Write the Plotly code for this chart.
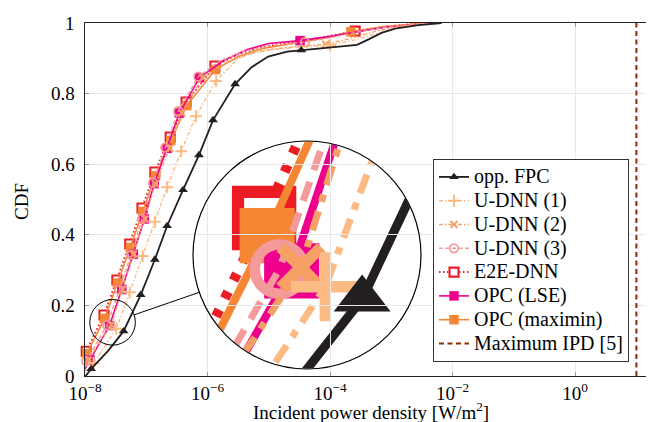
import plotly.graph_objects as go

# ---------------- data ----------------
# x values are stored as log10 of the incident power density [W/m^2]
fpc_log = [-7.99, -7.90, -7.62, -7.37, -7.09, -6.86, -6.66, -6.40, -6.14, -5.91, -5.55,
           -5.28, -5.01, -4.70, -4.47, -3.92, -3.56, -3.38, -3.16, -2.94, -2.56, -2.18]
fpc_cdf = [0.0, 0.02, 0.072, 0.127, 0.23, 0.33, 0.425, 0.527, 0.626, 0.725, 0.827,
           0.875, 0.905, 0.919, 0.923, 0.931, 0.938, 0.953, 0.972, 0.984, 0.994, 1.0]
fpc_mark = [0, 1, 0, 1, 1, 1, 1, 1, 1, 1, 1, 0, 0, 0, 1, 0, 0, 0, 0, 0, 0, 0]

udnn1_log = [-7.98, -7.86, -7.49, -7.27, -7.06, -6.86, -6.66, -6.43, -6.19, -5.86,
             -5.50, -5.18, -4.60, -4.00, -3.60, -3.20, -2.80, -2.40]
udnn1_cdf = [0.0, 0.037, 0.134, 0.237, 0.34, 0.437, 0.535, 0.637, 0.736, 0.836,
             0.90, 0.921, 0.93, 0.937, 0.952, 0.972, 0.99, 1.0]
udnn1_mark = [0, 1, 1, 1, 1, 1, 1, 1, 1, 1, 0, 0, 0, 1, 0, 0, 0, 0]

udnn2_log = [-8.02, -7.95, -7.57, -7.39, -7.21, -7.02, -6.85, -6.62, -6.42, -6.08,
             -5.70, -5.30, -4.90, -4.50, -4.07, -3.70, -3.30, -2.90, -2.40]
udnn2_cdf = [0.0, 0.045, 0.145, 0.245, 0.345, 0.445, 0.545, 0.645, 0.745, 0.845,
             0.888, 0.913, 0.927, 0.934, 0.94, 0.955, 0.974, 0.99, 1.0]
udnn2_mark = [0, 1, 1, 1, 1, 1, 1, 1, 1, 1, 0, 0, 0, 0, 1, 0, 0, 0, 0]

udnn3_log = [-8.05, -7.98, -7.64, -7.44, -7.25, -7.07, -6.89, -6.69, -6.48, -6.15,
             -5.80, -5.40, -5.00, -4.41, -4.00, -3.60, -3.10, -2.40]
udnn3_cdf = [0.0, 0.042, 0.144, 0.244, 0.343, 0.445, 0.547, 0.647, 0.75, 0.848,
             0.892, 0.92, 0.935, 0.946, 0.958, 0.973, 0.988, 1.0]
udnn3_mark = [0, 1, 1, 1, 1, 1, 1, 1, 1, 1, 0, 0, 0, 1, 0, 0, 0, 0]

e2e_log = [-8.08, -7.98, -7.69, -7.48, -7.27, -7.07, -6.86, -6.61, -6.35, -5.88,
           -5.50, -5.10, -4.60, -4.10, -3.59, -3.10, -2.45]
e2e_cdf = [0.0, 0.07, 0.173, 0.272, 0.374, 0.476, 0.578, 0.677, 0.776, 0.878,
           0.912, 0.932, 0.945, 0.96, 0.977, 0.99, 1.0]
e2e_mark = [0, 1, 1, 1, 1, 1, 1, 1, 1, 1, 0, 0, 0, 0, 1, 0, 0]

lse_log = [-8.06, -7.92, -7.60, -7.40, -7.21, -7.03, -6.87, -6.66, -6.46, -6.13,
           -5.75, -5.35, -5.00, -4.49, -4.00, -3.60, -3.10, -2.35]
lse_cdf = [0.0, 0.045, 0.143, 0.245, 0.345, 0.445, 0.545, 0.645, 0.745, 0.845,
           0.893, 0.925, 0.942, 0.95, 0.962, 0.974, 0.988, 1.0]
lse_mark = [0, 1, 1, 1, 1, 1, 1, 1, 1, 1, 0, 0, 0, 1, 0, 0, 0, 0]

maximin_log = [-8.08, -7.97, -7.68, -7.47, -7.26, -7.06, -6.85, -6.60, -6.34, -5.87,
               -5.50, -5.10, -4.60, -4.10, -3.66, -3.10, -2.40]
maximin_cdf = [0.0, 0.063, 0.163, 0.263, 0.364, 0.466, 0.567, 0.667, 0.766, 0.868,
               0.905, 0.928, 0.942, 0.957, 0.975, 0.99, 1.0]
maximin_mark = [0, 1, 1, 1, 1, 1, 1, 1, 1, 1, 0, 0, 0, 0, 1, 0, 0]

max_ipd_x = [10, 10]
max_ipd_cdf = [0, 1]

X_TICK_VALS = [1e-8, 1e-6, 1e-4, 1e-2, 1]
X_TICK_TEXT = ['10<sup>−8</sup>', '10<sup>−6</sup>', '10<sup>−4</sup>', '10<sup>−2</sup>', '10<sup>0</sup>']
Y_TICK_VALS = [0, 0.2, 0.4, 0.6, 0.8, 1]
Y_TICK_TEXT = ['0', '0.2', '0.4', '0.6', '0.8', '1']
X_TITLE = 'Incident power density [W/m<sup>2</sup>]'
Y_TITLE = 'CDF'

# ---------------- styling / layout geometry ----------------
W, H = 654, 422
ML, MR, MT, MB = 77, 6, 15, 54
PW, PH = W - ML - MR, H - MT - MB
X_LOG_RANGE = [-8, 1.32]
DEC_PER_PX = (X_LOG_RANGE[1] - X_LOG_RANGE[0]) / PW

FONT = 'Liberation Serif'
T = 'rgba(0,0,0,0)'
LEG_TXT = 20  # legend text size (rows keep a tighter pitch)

C_FPC = '#231f20'
C_U1 = '#fcbb85'
C_U2 = '#f7a066'
C_U3 = '#f49a9a'
C_E2E = '#ed1c24'
C_LSE = '#ec008c'
C_MAX = '#f58634'
C_IPD = '#8c2d04'

# spy (magnifier) geometry
SPY_LOG_X, SPY_CDF, SPY_R = -7.55, 0.152, 22.8
BIG_CX, BIG_CY, BIG_R = 299, 247, 114      # pixel centre / radius of the magnified view
MAG = BIG_R / SPY_R
MK_MAG = 5.8


def paper_x(px):
    return (px - ML) / PW


def paper_y(py):
    return (MT + PH - py) / PH


def px_x(logv):
    return ML + (logv - X_LOG_RANGE[0]) / DEC_PER_PX


def px_y(c):
    return MT + (1 - c) * PH


def dash_str(pattern, k=1.0):
    if pattern is None:
        return 'solid'
    return ','.join('%gpx' % (p * k) for p in pattern)


def circle_data(cx_log, cy, r_px):
    """circle of r_px pixels around a point of the main axes, in main-axis data units"""
    return dict(x0=10 ** (cx_log - r_px * DEC_PER_PX), x1=10 ** (cx_log + r_px * DEC_PER_PX),
                y0=cy - r_px / PH, y1=cy + r_px / PH)


series = [
    dict(name='E2E-DNN', logs=e2e_log, cdf=e2e_cdf, mark=e2e_mark, color=C_E2E,
         fill='white', edge=C_E2E, dash=[1.5, 2.5], width=2.0, symbol='square',
         msize=9, mlw=2.1, rank=5),
    dict(name='OPC (maximin)', logs=maximin_log, cdf=maximin_cdf, mark=maximin_mark, color=C_MAX,
         fill=C_MAX, edge=C_MAX, dash=None, width=1.6, symbol='square',
         msize=9.5, mlw=0, rank=7),
    dict(name='OPC (LSE)', logs=lse_log, cdf=lse_cdf, mark=lse_mark, color=C_LSE,
         fill=C_LSE, edge=C_LSE, dash=None, width=1.6, symbol='square',
         msize=9.5, mlw=0, rank=6),
    dict(name='U-DNN (3)', logs=udnn3_log, cdf=udnn3_cdf, mark=udnn3_mark, color=C_U3,
         fill=C_U3, edge=C_U3, dash=[4, 2.5], width=1.4, symbol='circle-open',
         msize=8.5, mlw=1.8, rank=4),
    dict(name='U-DNN (2)', logs=udnn2_log, cdf=udnn2_cdf, mark=udnn2_mark, color=C_U2,
         fill=C_U2, edge=C_U2, dash=[4, 2, 1.5, 2], width=1.4, symbol='x-thin',
         msize=7, mlw=2.0, rank=3),
    dict(name='U-DNN (1)', logs=udnn1_log, cdf=udnn1_cdf, mark=udnn1_mark, color=C_U1,
         fill=C_U1, edge=C_U1, dash=[4, 2, 1.5, 2], width=1.4, symbol='cross-thin',
         msize=8.5, mlw=2.0, rank=2),
    dict(name='opp. FPC', logs=fpc_log, cdf=fpc_cdf, mark=fpc_mark, color=C_FPC,
         fill=C_FPC, edge=C_FPC, dash=None, width=1.8, symbol='triangle-up',
         msize=8.5, mlw=0, rank=1),
]


def leg_name(txt):
    return ('<span style="font-family:Liberation Serif;font-size:%dpx">%s</span>'
            % (LEG_TXT, txt))


fig = go.Figure()

# ---- magnified inset (drawn first, on x/y) ----
for s in series:
    xs = [10 ** v for v in s['logs']]
    fig.add_trace(go.Scatter(
        x=xs, y=s['cdf'], mode='lines+markers', xaxis='x', yaxis='y',
        showlegend=False, hoverinfo='skip', cliponaxis=True,
        line=dict(color=s['color'], width=s['width'] * MAG, dash=dash_str(s['dash'], MAG)),
        marker=dict(symbol=s['symbol'], size=s['msize'] * MK_MAG,
                    color=[s['fill'] if m else T for m in s['mark']],
                    line=dict(color=[s['edge'] if m else T for m in s['mark']],
                              width=s['mlw'] * MK_MAG)),
    ))

# ---- main plot (x2/y2) ----
for s in series:
    xs = [10 ** v for v in s['logs']]
    ys = s['cdf']
    fig.add_trace(go.Scatter(
        x=xs[:2], y=ys[:2], mode='lines', xaxis='x2', yaxis='y2',
        showlegend=False, hoverinfo='skip', legendgroup=s['name'],
        line=dict(color=s['color'], width=s['width'], dash=dash_str(s['dash'])),
    ))
    fig.add_trace(go.Scatter(
        x=xs[1:], y=ys[1:], mode='lines+markers', xaxis='x2', yaxis='y2',
        name=leg_name(s['name']), legendrank=s['rank'], legendgroup=s['name'],
        hoverinfo='skip', cliponaxis=False,
        line=dict(color=s['color'], width=s['width'], dash=dash_str(s['dash'])),
        marker=dict(symbol=s['symbol'], size=s['msize'],
                    color=[s['fill'] if m else T for m in s['mark'][1:]],
                    line=dict(color=[s['edge'] if m else T for m in s['mark'][1:]],
                              width=s['mlw'])),
    ))

fig.add_trace(go.Scatter(
    x=max_ipd_x, y=max_ipd_cdf, mode='lines', xaxis='x2', yaxis='y2',
    name=leg_name('Maximum IPD [5]'), legendrank=8, hoverinfo='skip',
    line=dict(color=C_IPD, width=2, dash='5px,3.5px'),
))

# ---- geometry of the magnifier ----
inset_dx = [paper_x(BIG_CX - BIG_R), paper_x(BIG_CX + BIG_R)]
inset_dy = [paper_y(BIG_CY + BIG_R), paper_y(BIG_CY - BIG_R)]
inset_xr = [SPY_LOG_X - SPY_R * DEC_PER_PX, SPY_LOG_X + SPY_R * DEC_PER_PX]
inset_yr = [SPY_CDF - SPY_R / PH, SPY_CDF + SPY_R / PH]
big_log = X_LOG_RANGE[0] + (BIG_CX - ML) * DEC_PER_PX
big_cdf = 1 - (BIG_CY - MT) / PH

r_in, r_out = BIG_R - 0.5, BIG_R * 1.48
ring_mid, ring_w = (r_in + r_out) / 2, (r_out - r_in)

sx, sy = px_x(SPY_LOG_X), px_y(SPY_CDF)
dx, dy = BIG_CX - sx, BIG_CY - sy
dist = (dx ** 2 + dy ** 2) ** 0.5
ux, uy = dx / dist, dy / dist
l0 = (sx + ux * SPY_R, sy + uy * SPY_R)
l1 = (BIG_CX - ux * BIG_R, BIG_CY - uy * BIG_R)

shapes = [
    # white ring that turns the square inset into a circular one (sits under main traces)
    dict(type='circle', xref='x2', yref='y2', **circle_data(big_log, big_cdf, ring_mid),
         line=dict(color='white', width=ring_w), fillcolor=T, layer='below'),
    # magnified circle outline
    dict(type='circle', xref='paper', yref='paper',
         x0=inset_dx[0], x1=inset_dx[1], y0=inset_dy[0], y1=inset_dy[1],
         line=dict(color='black', width=1.2), layer='above'),
    # spy circle
    dict(type='circle', xref='x2', yref='y2', **circle_data(SPY_LOG_X, SPY_CDF, SPY_R),
         line=dict(color='black', width=1), layer='above'),
    # connection line
    dict(type='line', xref='paper', yref='paper',
         x0=paper_x(l0[0]), y0=paper_y(l0[1]), x1=paper_x(l1[0]), y1=paper_y(l1[1]),
         line=dict(color='black', width=1), layer='above'),
]

axis_common = dict(showline=True, linecolor='#222', linewidth=1, mirror='ticks',
                   ticks='inside', ticklen=4, tickcolor='#9a9a9a', tickwidth=1,
                   showgrid=True, gridcolor='#e8e8e8', gridwidth=1, zeroline=False,
                   tickfont=dict(family=FONT, size=19, color='black'))

# y tick labels placed just left of the axis line
y_tick_annotations = [
    dict(text=t, xref='paper', yref='y2', x=paper_x(69), y=v, xanchor='right',
         yanchor='middle', showarrow=False, font=dict(family=FONT, size=19, color='black'))
    for v, t in zip(Y_TICK_VALS, Y_TICK_TEXT)
]

fig.update_layout(
    width=W, height=H,
    margin=dict(l=ML, r=MR, t=MT, b=MB),
    paper_bgcolor='white', plot_bgcolor='rgba(0,0,0,0)',
    font=dict(family=FONT, size=19, color='black'),
    showlegend=True,
    xaxis=dict(type='log', range=inset_xr, domain=inset_dx, anchor='y', visible=False,
               showgrid=False, zeroline=False, fixedrange=True),
    yaxis=dict(range=inset_yr, domain=inset_dy, anchor='x', visible=False,
               showgrid=False, zeroline=False, fixedrange=True),
    xaxis2=dict(type='log', range=X_LOG_RANGE, domain=[0, 1], anchor='y2',
                tickvals=X_TICK_VALS, ticktext=X_TICK_TEXT, automargin=False,
                **axis_common),
    yaxis2=dict(range=[0, 1], domain=[0, 1], anchor='x2', automargin=False,
                tickvals=Y_TICK_VALS, showticklabels=False,
                **axis_common),
    legend=dict(x=paper_x(621), y=paper_y(151), xanchor='right', yanchor='top',
                bgcolor='white', bordercolor='#333', borderwidth=1,
                font=dict(family=FONT, size=16, color='black'),
                tracegroupgap=0, itemwidth=30),
    shapes=shapes,
    annotations=y_tick_annotations + [
        dict(text=X_TITLE, xref='paper', yref='paper', x=paper_x(363),
             y=paper_y(403), xanchor='center', yanchor='middle', showarrow=False,
             font=dict(family=FONT, size=19, color='black')),
        dict(text=Y_TITLE, xref='paper', yref='paper', x=paper_x(14),
             y=paper_y(194), xanchor='center', yanchor='middle', showarrow=False,
             textangle=-90, font=dict(family=FONT, size=19, color='black')),
    ],
)

fig.write_html('out.html')
